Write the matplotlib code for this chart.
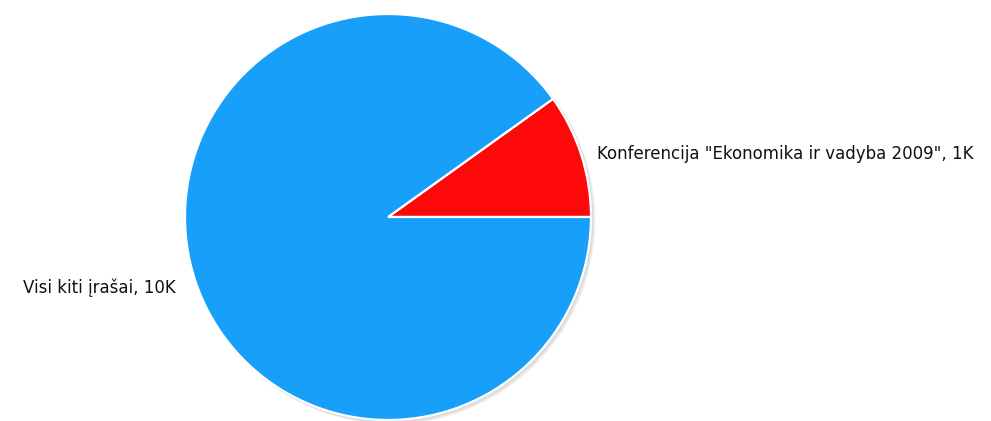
import numpy as np
import matplotlib.pyplot as plt

# record counts
labels = ['Konferencija "Ekonomika ir vadyba 2009", 1K', 'Visi kiti įrašai, 10K']
values = [1080, 9840]
colors = ['#fe0909', '#189ffa']

W, H = 991, 421
fig = plt.figure(figsize=(W / 100, H / 100), dpi=100)
ax = fig.add_axes([0, 0, 1, 1])

cx, cy, r = 388, H - 217, 203

# soft drop shadow under the pie
for off, col in [(3.5, '#f0f0f0'), (2.5, '#e4e4e4'), (1.5, '#dadada')]:
    ax.add_patch(plt.Circle((cx + off, cy - off), r, color=col, zorder=0))

wedges, _ = ax.pie(values, colors=colors, startangle=0, counterclock=True,
                   center=(cx, cy), radius=r,
                   wedgeprops=dict(edgecolor='white', linewidth=1.6))

for w, lab in zip(wedges, labels):
    mid = np.deg2rad((w.theta1 + w.theta2) / 2)
    right = np.cos(mid) > 0
    x = cx + 1.08 * r * np.cos(mid) + (0 if right else -4)
    y = cy + 1.08 * r * np.sin(mid) - 4
    ax.text(x, y, lab, ha='left' if right else 'right', va='center',
            fontsize=12, color='#111111')

ax.set_xlim(0, W)
ax.set_ylim(0, H)
ax.set_aspect('equal')
ax.axis('off')

fig.savefig('out.png', dpi=100)
